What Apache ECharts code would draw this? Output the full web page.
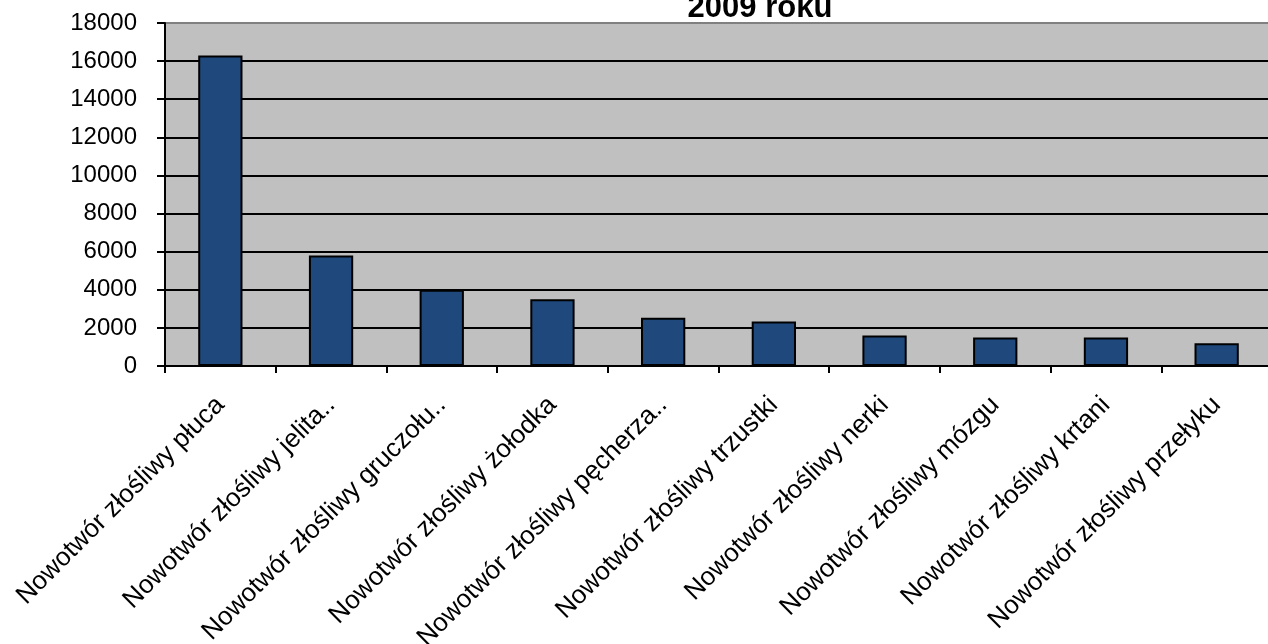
<!DOCTYPE html>
<html>
<head>
<meta charset="utf-8">
<script src="https://cdn.jsdelivr.net/npm/echarts@6/dist/echarts.min.js"></script>
<style>
html,body{margin:0;padding:0;background:#fff;}
#chart{width:1268px;height:644px;}
</style>
</head>
<body>
<div id="chart"></div>
<script>
var categories = [
  "Nowotwór złośliwy płuca",
  "Nowotwór złośliwy jelita..",
  "Nowotwór złośliwy gruczołu..",
  "Nowotwór złośliwy żołodka",
  "Nowotwór złośliwy pęcherza..",
  "Nowotwór złośliwy trzustki",
  "Nowotwór złośliwy nerki",
  "Nowotwór złośliwy mózgu",
  "Nowotwór złośliwy krtani",
  "Nowotwór złośliwy przełyku"
];
var values = [16300, 5800, 4000, 3500, 2530, 2340, 1600, 1500, 1500, 1200];
var titleText = "2009 roku";
var yMin = 0, yMax = 18000, yStep = 2000;

var chart = echarts.init(document.getElementById('chart'), null, {renderer: 'canvas'});
var font = 'Liberation Sans';
chart.setOption({
  animation: false,
  backgroundColor: '#ffffff',
  graphic: [{
    type: 'text',
    x: 760, y: 8,
    style: {
      text: titleText,
      fontSize: 31,
      fontWeight: 'bold',
      fontFamily: font,
      fill: '#000',
      align: 'center',
      verticalAlign: 'middle'
    }
  }],
  grid: {
    left: 165, right: -4, top: 23, bottom: 278,
    containLabel: false,
    outerBoundsMode: 'none',
    show: true,
    backgroundColor: '#c0c0c0',
    borderColor: '#808080',
    borderWidth: 2
  },
  xAxis: {
    type: 'category',
    data: categories,
    axisLine: {lineStyle: {color: '#000', width: 2}},
    axisTick: {show: true, length: 7, lineStyle: {color: '#000', width: 2}},
    axisLabel: {
      rotate: 45,
      interval: 0,
      margin: 35,
      color: '#000',
      fontSize: 26,
      fontFamily: font
    }
  },
  yAxis: {
    type: 'value',
    min: yMin, max: yMax, interval: yStep,
    axisLine: {show: true, lineStyle: {color: '#000', width: 2}},
    axisTick: {show: true, length: 8, lineStyle: {color: '#000', width: 2}},
    axisLabel: {
      margin: 28,
      color: '#000',
      fontSize: 24,
      fontFamily: font,
      formatter: function (v) { return String(v); }
    },
    splitLine: {
      show: true,
      lineStyle: {
        color: ['#000','#000','#000','#000','#000','#000','#000','#000','#000','#808080'],
        width: 2
      }
    }
  },
  series: [{
    type: 'bar',
    data: values,
    barCategoryGap: '60%',
    itemStyle: {color: '#1f497c', borderColor: '#000', borderWidth: 2}
  }]
});
</script>
</body>
</html>
